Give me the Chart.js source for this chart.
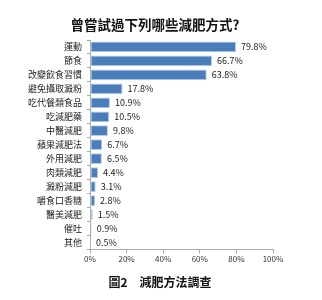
<!DOCTYPE html>
<html>
<head>
<meta charset="utf-8">
<script src="https://cdn.jsdelivr.net/npm/chart.js@4"></script>
<style>
  html, body { margin: 0; padding: 0; background: #fff; }
  #wrap { position: relative; width: 322px; height: 300px; font-family: "Noto Sans CJK TC", "Noto Sans", sans-serif; color: #111; }
  #dietChart { position: absolute; left: 0; top: 0; }
  .title { position: absolute; left: 55px; width: 200px; top: 14px; text-align: center; font-size: 13.5px; font-weight: bold; line-height: 20px; }
  .caption { position: absolute; left: 60px; width: 200px; top: 272px; text-align: center; font-size: 12px; font-weight: bold; line-height: 20px; }
</style>
</head>
<body>
<div id="wrap">
  <canvas id="dietChart" width="322" height="300"></canvas>
  <div class="title" id="chart-title"></div>
  <div class="caption" id="chart-caption"></div>
</div>
<script>
const methods = ['運動', '節食', '改變飲食習慣', '避免攝取澱粉', '吃代餐類食品', '吃減肥藥', '中醫減肥', '蘋果減肥法',
                 '外用減肥', '肉類減肥', '澱粉減肥', '嚼食口香糖', '醫美減肥', '催吐', '其他'];
const percents = [79.8, 66.7, 63.8, 17.8, 10.9, 10.5, 9.8, 6.7, 6.5, 4.4, 3.1, 2.8, 1.5, 0.9, 0.5];
const xTicks = [0, 20, 40, 60, 80, 100];
const chartTitle = '曾嘗試過下列哪些減肥方式?';
const caption = '圖2　減肥方法調查';

const cjk = '"Noto Sans CJK TC", "Noto Sans", sans-serif';
document.getElementById('chart-title').innerText = chartTitle;
document.getElementById('chart-caption').innerText = caption;

const valueLabels = {
    id: 'valueLabels',
    afterDatasetsDraw(chart) {
        const ctx = chart.ctx;
        const meta = chart.getDatasetMeta(0);
        ctx.save();
        ctx.font = '9px ' + cjk;
        ctx.fillStyle = '#222';
        ctx.textBaseline = 'middle';
        meta.data.forEach((bar, i) => {
            ctx.fillText(percents[i].toFixed(1) + '%', bar.x + 5, bar.y);
        });
        ctx.restore();
    }
};

new Chart(document.getElementById('dietChart'), {
    type: 'bar',
    data: { labels: methods, datasets: [{ data: percents, backgroundColor: '#4a7ebb', borderColor: '#b9cde8', borderWidth: 1, borderSkipped: false, barPercentage: 0.77, categoryPercentage: 1 }] },
    options: {
        indexAxis: 'y', responsive: false, animation: false,
        layout: { padding: { left: 0, right: 49, top: 40, bottom: 35 } },
        plugins: { legend: { display: false }, tooltip: { enabled: false } },
        scales: {
            x: {
                min: 0, max: 100,
                afterBuildTicks: s => { s.ticks = xTicks.map(v => ({ value: v })); },
                ticks: { callback: v => v + '%', color: '#333', font: { family: cjk, size: 8 }, padding: 1, maxRotation: 0 },
                grid: { drawOnChartArea: false, tickLength: 4, color: '#aaa' },
                border: { color: '#aaa' }
            },
            y: {
                afterFit: s => { s.width = 90; },
                ticks: { autoSkip: false, color: '#222', font: { family: cjk, size: 9 }, padding: 5 },
                grid: { drawOnChartArea: false, tickLength: 3, color: '#aaa' },
                border: { color: '#aaa' }
            }
        }
    },
    plugins: [valueLabels]
});
</script>
</body>
</html>
